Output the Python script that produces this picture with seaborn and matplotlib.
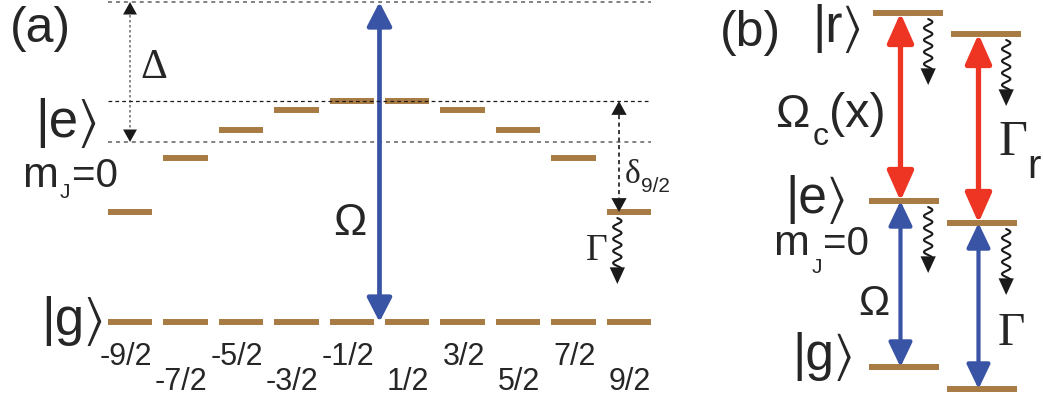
import numpy as np
import pandas as pd
import matplotlib.pyplot as plt
import seaborn as sns
from matplotlib.patches import FancyArrowPatch

# ---- data -------------------------------------------------------------
# panel (a): m_J sublevels, energies in arbitrary units (|g> = 0)
m_j = [-4.5, -3.5, -2.5, -1.5, -0.5, 0.5, 1.5, 2.5, 3.5, 4.5]
m_labels = ['-9/2', '-7/2', '-5/2', '-3/2', '-1/2', '1/2', '3/2', '5/2', '7/2', '9/2']
e_levels = [1.10, 1.64, 1.92, 2.12, 2.21, 2.21, 2.12, 1.92, 1.64, 1.10]
g_level = 0.0
e_mj0 = 1.80      # unshifted |e>, m_J = 0
laser = 3.20      # laser frequency (Delta above m_J = 0)

# panel (b): two ladder schemes
ladder_col = [0, 1]
ladder_g = [0.22, 0.00]
ladder_e = [1.88, 1.66]
ladder_r = [3.76, 3.55]

brown = '#A87B45'
blue = '#3A54A5'
red = '#EE3524'
W, H = 1043, 403

sns.set_theme(style='white')
plt.rcParams['font.family'] = ['Liberation Sans', 'STIXGeneral', 'DejaVu Sans']
SERIF = ['Liberation Serif', 'DejaVu Serif']

fig = plt.figure(figsize=(W / 100, H / 100), dpi=100)
ax_a = fig.add_axes([0, 0, 700 / W, 1])
ax_b = fig.add_axes([700 / W, 0, 343 / W, 1])
for ax in (ax_a, ax_b):
    ax.set_axis_off()
ax_a.set_xlim(-6.845, 5.781)
ax_a.set_ylim(-0.81, 3.22)
ax_b.set_xlim(-2.615, 1.782)
ax_b.set_ylim(-0.14, 3.89)

# data units per pixel, used for the wavy decay arrows
KA = (1 / 55.44, 1 / 100)
KB = (1 / 78, 1 / 100)


def levels_df(xs, ys, half):
    rows = []
    for i, (x, y) in enumerate(zip(xs, ys)):
        rows.append({'level': i, 'x': x - half, 'E': y})
        rows.append({'level': i, 'x': x + half, 'E': y})
    return pd.DataFrame(rows)


def arrow(ax, x, y0, y1, color, lw, hw, hl, style='<|-|>'):
    ax.add_patch(FancyArrowPatch((x, y0), (x, y1),
                                 arrowstyle=f'{style},head_width={hw},head_length={hl}',
                                 mutation_scale=1, color=color, lw=lw,
                                 shrinkA=0, shrinkB=0, zorder=4))


def dashed_arrow(ax, x, y0, y1, color, ls, k, hw=5, hl=9):
    gap = hl * 100 / 72 * k[1]
    ax.plot([x, x], [y0 - gap, y1 + gap], color=color, ls=ls, lw=1.2, zorder=3)
    ax.add_patch(FancyArrowPatch((x, y0), (x, y1),
                                 arrowstyle=f'<|-|>,head_width={hw},head_length={hl}',
                                 mutation_scale=1, color='k', lw=0,
                                 shrinkA=0, shrinkB=0, zorder=4))


def wavy(ax, x, top, k, length=0.66):
    kx, ky = k
    head = 16 * ky
    y_start = top - 0.06
    y_tip = y_start - length
    yy = np.linspace(y_start, y_tip + head, 200)
    xx = x + 4.2 * kx * np.sin(2 * np.pi * (y_start - yy) / (12 * ky))
    ax.plot(xx, yy, color='k', lw=1.5, zorder=3)
    ax.add_patch(FancyArrowPatch((x, y_tip + head + 0.01), (x, y_tip),
                                 arrowstyle='-|>,head_width=5.5,head_length=12',
                                 mutation_scale=1, color='k', lw=0,
                                 shrinkA=0, shrinkB=0, zorder=4))


def ftext(px, py, s, size, family=None, **kw):
    fig.text(px / W, 1 - py / H, s, fontsize=size, va='baseline',
             family=family or plt.rcParams['font.family'], **kw)


# ---- panel (a) ---------------------------------------------------------
half_a = 0.4
x_left, x_right = m_j[0] - half_a, m_j[-1] + half_a
ax_a.hlines(laser, x_left, x_right, colors='#777777', linestyles=(0, (2.2, 2.2)), lw=1.3)
ax_a.hlines(max(e_levels), x_left, x_right, colors='k', linestyles=(0, (3, 2.5)), lw=0.9, zorder=5)
ax_a.hlines(e_mj0, x_left, x_right, colors='#777777', linestyles=(0, (2.2, 2.2)), lw=1.3)

df_e = levels_df(m_j, e_levels, half_a)
df_g = levels_df(m_j, [g_level] * len(m_j), half_a)
for df in (df_e, df_g):
    sns.lineplot(data=df, x='x', y='E', units='level', estimator=None, color=brown,
                 lw=4.3, legend=False, ax=ax_a, solid_capstyle='butt', zorder=2)

for i, (m, lab) in enumerate(zip(m_j, m_labels)):
    ax_a.text(m + half_a, g_level - (0.43 if i % 2 == 0 else 0.68), lab,
              fontsize=22, ha='right', va='baseline')

arrow(ax_a, 0.0, g_level, laser, blue, 3.4, 7.5, 14.5)
dashed_arrow(ax_a, m_j[0], laser, e_mj0, '#777777', (0, (1.5, 1.5)), KA)
dashed_arrow(ax_a, m_j[-1] - 0.18, max(e_levels), e_levels[-1], 'k', (0, (2.5, 2)), KA, 5.5, 10)
wavy(ax_a, m_j[-1] - 0.21, e_levels[-1], KA)

ftext(10, 42, '(a)', 36)
ftext(100, 137, '|e⟩', 38, ha='right')
ftext(22, 187, 'm', 31)
ftext(60, 198, 'J', 15)
ftext(72, 187, '=0', 29)
ftext(106, 335, '|g⟩', 38, ha='right')
ftext(333, 235, 'Ω', 32)
ftext(140, 78, 'Δ', 30, SERIF)
ftext(625, 183, 'δ', 24, SERIF)
ftext(641, 192, '9/2', 15)
ftext(586, 260, 'Γ', 27, SERIF)

# ---- panel (b) ---------------------------------------------------------
half_b = 0.45
for lv in (ladder_g, ladder_e, ladder_r):
    shift = 0.05 if lv is ladder_r else 0.0
    df = levels_df([c + shift for c in ladder_col], lv, half_b)
    sns.lineplot(data=df, x='x', y='E', units='level', estimator=None, color=brown,
                 lw=4.3, legend=False, ax=ax_b, solid_capstyle='butt', zorder=2)

for c, g, e, r in zip(ladder_col, ladder_g, ladder_e, ladder_r):
    arrow(ax_b, c - 0.045, e, r, red, 3.8, 8, 18)
    arrow(ax_b, c - 0.045, g, e, blue, 3.0, 7.2, 15)
    wavy(ax_b, c + 0.31, r, KB)
    wavy(ax_b, c + 0.31, e, KB)

ftext(720, 46, '(b)', 36)
ftext(863, 42, '|r⟩', 37, ha='right')
ftext(776, 127, 'Ω', 33)
ftext(813, 145, 'c', 23)
ftext(829, 127, '(x)', 35)
ftext(998, 155, 'Γ', 36, SERIF)
ftext(1027, 178, 'r', 29)
ftext(848, 213, '|e⟩', 37, ha='right')
ftext(773, 255, 'm', 31)
ftext(812, 273, 'J', 15)
ftext(823, 255, '=0', 29)
ftext(858, 315, 'Ω', 30)
ftext(998, 345, 'Γ', 34, SERIF)
ftext(855, 370, '|g⟩', 37, ha='right')

fig.savefig('out.png', dpi=100)
